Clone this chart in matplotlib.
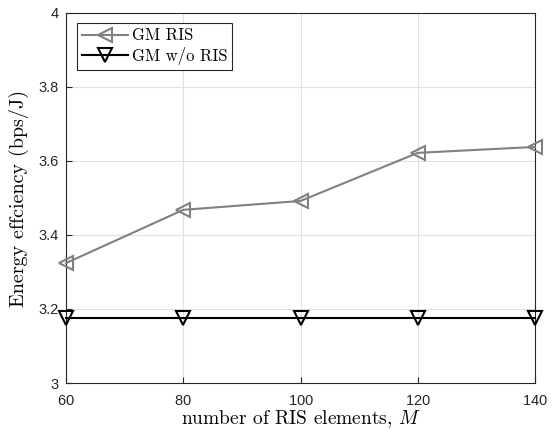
import matplotlib
matplotlib.use("Agg")
import matplotlib.pyplot as plt

M = [60, 80, 100, 120, 140]
gm_ris = [3.324, 3.468, 3.492, 3.622, 3.638]
gm_no_ris = [3.176, 3.176, 3.176, 3.176, 3.176]
xticks = [60, 80, 100, 120, 140]
yticks = [3, 3.2, 3.4, 3.6, 3.8, 4]
ytick_labels = ["3", "3.2", "3.4", "3.6", "3.8", "4"]

plt.rcParams['mathtext.fontset'] = 'cm'
plt.rcParams['axes.formatter.use_mathtext'] = True

fig = plt.figure(figsize=(5.53, 4.30), dpi=100)
ax = fig.add_axes([0.1193, 0.1093, 0.9675 - 0.1193, 0.9698 - 0.1093])

ax.plot(M, gm_ris, color='#808080', lw=1.5, marker='<', ms=10, mfc='none',
        mec='#808080', mew=1.5, label='GM RIS', clip_on=False, zorder=3)
ax.plot(M, gm_no_ris, color='black', lw=1.5, marker='v', ms=10, mfc='none',
        mec='black', mew=1.5, label='GM w/o RIS', clip_on=False, zorder=3)

ax.set_xlim(60, 140)
ax.set_ylim(3, 4)
ax.set_xticks(xticks)
ax.set_yticks(yticks)
ax.set_yticklabels(ytick_labels)
ax.grid(True, color='#e0e0e0', lw=0.8)
ax.set_axisbelow(True)
for s in ax.spines.values():
    s.set_color('#262626')
    s.set_linewidth(0.8)
ax.tick_params(direction='in', length=4, width=0.8, labelsize=10.5, colors='#262626', labelcolor='#262626')
ax.tick_params(axis='x', pad=8)
ax.tick_params(axis='y', pad=5)
for lab in ax.get_xticklabels() + ax.get_yticklabels():
    lab.set_family('Liberation Sans')

serif = 'cmr10'
ax.set_xlabel(r'number of RIS elements, $M$', fontsize=14, family=serif, labelpad=0)
ax.set_ylabel('Energy effciency (bps/J)', fontsize=14.5, family=serif, labelpad=7)

leg = ax.legend(loc='upper left', bbox_to_anchor=(0.005, 0.995), fancybox=False,
                edgecolor='#262626', framealpha=1, handlelength=2.8, handletextpad=0.2,
                borderpad=0.3, labelspacing=0.2, prop={'family': serif, 'size': 12})
leg.get_frame().set_linewidth(0.8)

fig.savefig('out.png', dpi=100)
